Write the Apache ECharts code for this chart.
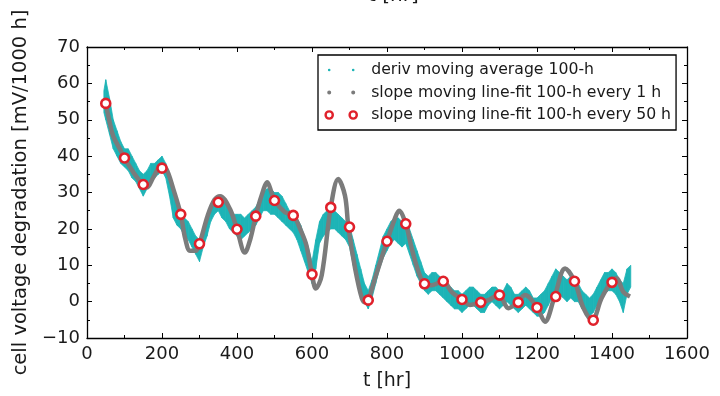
<!DOCTYPE html>
<html><head><meta charset="utf-8">
<script src="https://cdn.jsdelivr.net/npm/echarts@6/dist/echarts.min.js"></script>
<style>html,body{margin:0;padding:0;background:#fff}#c{width:720px;height:396px}</style>
</head><body><div id="c"></div>
<script>
// ---- data ----
const xTicks = [0, 200, 400, 600, 800, 1000, 1200, 1400, 1600];
const yTicks = [-10, 0, 10, 20, 30, 40, 50, 60, 70];

// deriv moving average 100-h: noisy band, lower / upper edge per sampled hour
const cyanT  = [45,50,60,70,80,90,100,110,120,130,140,150,160,170,180,190,200,210,220,230,240,250,260,270,280,290,300,310,320,330,340,350,360,370,380,390,400,410,420,430,440,450,460,470,480,490,500,510,520,530,540,550,560,570,580,590,600,610,620,630,640,650,660,670,680,690,700,710,720,730,740,750,760,770,780,790,800,810,820,830,840,850,860,870,880,890,900,910,920,930,940,950,960,970,980,990,1000,1010,1020,1030,1040,1050,1060,1070,1080,1090,1100,1110,1120,1130,1140,1150,1160,1170,1180,1190,1200,1210,1220,1230,1240,1250,1260,1270,1280,1290,1300,1310,1320,1330,1340,1350,1360,1370,1380,1390,1400,1410,1420,1430,1440,1450];
const cyanLo = [52,50,46,42,40,38,37,36,34,33,31,29,31,33,34,35,36,34,29,23,21,20,18,17,15,13,11,15,18,22,24,25,23,22,20,19,18,17,18,19,20,21,23,25,25,24,24,23,22,21,20,19,17,14,11,8,5,9,16,18,19,20,20,19,18,17,15,10,7,3,0,-2,1,5,9,12,14,16,17,16,15,16,13,10,7,5,3,2,3,3,2,1,0,-1,-2,-2,-3,-2,-1,-1,-2,-3,-3,-1,0,-1,-2,-1,0,-1,-2,-3,-2,-1,-2,-3,-4,-4,-3,-1,1,3,2,1,0,1,0,0,-2,-3,-4,-3,-1,1,2,3,3,2,0,-3,2,4];
const cyanHi = [58,61,56,50,47,44,42,42,40,38,36,35,36,38,38,39,40,38,34,30,27,25,23,22,20,18,17,19,23,26,28,29,28,27,26,24,24,24,23,24,25,26,28,30,31,31,30,30,29,27,25,24,23,21,18,15,11,17,22,24,25,26,25,24,23,22,21,17,13,9,5,3,6,10,14,18,20,22,23,23,22,23,20,17,14,11,8,7,8,8,7,6,5,4,3,3,2,3,4,4,3,2,2,3,4,4,3,3,5,4,2,2,3,4,3,1,1,2,3,5,7,9,8,7,6,7,6,5,3,2,1,2,4,6,8,8,9,8,6,5,9,10];

// slope moving line-fit 100-h every 1 h (smooth curve, sampled points)
const grayT = [50,60,70,88,100,124,150,160,177,198,212,230,250,262,275,290,300,322,340,355,381,400,421,435,450,465,481,492,500,528,550,572,585,600,610,626,650,670,688,697,715,733,742,750,768,800,821,832,850,866,884,900,919,950,972,1000,1021,1050,1070,1098,1124,1148,1168,1200,1221,1247,1275,1300,1324,1347,1372,1397,1412,1430,1448];
const grayV = [54.5,49.5,45.5,41.9,39.5,35.5,32,31.4,34.2,37.4,36.4,31,24,17.3,14,14,15.9,23.7,28,29,25.5,19.9,13.5,17,23.5,29,32.8,30,27.8,24.6,23.7,19.1,15.5,7.5,3.6,7.3,25.9,33.7,29.1,20.5,9.1,0.9,-0.2,0.4,6.4,16.6,22.8,25,21.4,14.6,8.2,4.9,4.5,5.6,2.7,0.6,-0.9,-0.2,0.4,1.8,-1.8,-0.2,1.8,-1.6,-5.5,1.4,9.1,5.6,-1.8,-5.1,0.9,5.3,6.4,2.7,1.4];

// slope moving line-fit 100-h every 50 h
const redT = [50,100,150,200,250,300,350,400,450,500,550,600,650,700,750,800,850,900,950,1000,1050,1100,1150,1200,1250,1300,1350,1400];
const redV = [54.5,39.5,32.2,36.7,24,15.9,27.3,19.9,23.5,27.8,23.7,7.5,25.9,20.5,0.4,16.6,21.4,4.9,5.6,0.6,-0.2,1.8,-0.2,-1.6,1.4,5.6,-5.1,5.3];

const names = ['deriv moving average 100-h','slope moving line-fit 100-h every 1 h','slope moving line-fit 100-h every 50 h'];

// ---- chart ----
const FONT = 'DejaVu Sans';
const TXT = '#1a1a1a';
const CYAN = '#1db4b6', GRAY = '#7b7b7b', RED = '#e0212b';

const chart = echarts.init(document.getElementById('c'), null, {renderer:'canvas'});
const minus = v => String(v).replace('-', '\u2212');

const baseX = {
  type:'value', min:xTicks[0], max:xTicks[xTicks.length-1], interval:xTicks[1]-xTicks[0],
  axisLine:{show:true, onZero:false, lineStyle:{color:'#000', width:1.3}},
  axisTick:{show:true, inside:true, length:5, lineStyle:{color:'#000', width:1}},
  minorTick:{show:true, splitNumber:2, length:3, lineStyle:{color:'#000', width:1}},
  splitLine:{show:false}, minorSplitLine:{show:false}
};
const baseY = {
  type:'value', min:yTicks[0], max:yTicks[yTicks.length-1], interval:yTicks[1]-yTicks[0],
  axisLine:{show:true, onZero:false, lineStyle:{color:'#000', width:1.3}},
  axisTick:{show:true, inside:true, length:5, lineStyle:{color:'#000', width:1}},
  minorTick:{show:true, splitNumber:2, length:3, lineStyle:{color:'#000', width:1}},
  splitLine:{show:false}, minorSplitLine:{show:false}
};

const twoDots = r => `path://M0,0 M32,8 M${4-r},4 A${r},${r} 0 1,1 ${4+r},4 A${r},${r} 0 1,1 ${4-r},4 Z M${28-r},4 A${r},${r} 0 1,1 ${28+r},4 A${r},${r} 0 1,1 ${28-r},4 Z`;

// band segments built from the cyan arrays
const bandData = cyanT.slice(0, -1).map((t,i)=>[t, cyanLo[i], cyanHi[i], cyanT[i+1], cyanLo[i+1], cyanHi[i+1]]);

chart.setOption({
  animation:false,
  backgroundColor:'#fff',
  textStyle:{fontFamily:FONT},
  title:{text:'t [hr]', left:363, top:-19, textStyle:{fontFamily:FONT, fontSize:20, fontWeight:'normal', color:TXT}},
  grid:{left:87, right:33, top:47, bottom:56, containLabel:false},
  xAxis:[
    Object.assign({}, baseX, {
      position:'bottom', name:'t [hr]', nameLocation:'middle', nameGap:34,
      nameTextStyle:{fontFamily:FONT, fontSize:19, color:TXT},
      axisLabel:{show:true, margin:7, fontFamily:FONT, fontSize:18, color:TXT, formatter:minus}
    }),
    Object.assign({}, baseX, {position:'top', axisLabel:{show:false}})
  ],
  yAxis:[
    Object.assign({}, baseY, {
      position:'left', name:'cell voltage degradation [mV/1000 h]', nameLocation:'middle', nameGap:56,
      nameTextStyle:{fontFamily:FONT, fontSize:19.5, color:TXT},
      axisLabel:{show:true, margin:7, fontFamily:FONT, fontSize:18, color:TXT, formatter:minus}
    }),
    Object.assign({}, baseY, {position:'right', axisLabel:{show:false}})
  ],
  legend:{
    orient:'vertical', left:318, top:55, padding:[7,5,7,6], itemGap:6.5,
    itemWidth:32, itemHeight:8,
    backgroundColor:'#fff', borderColor:'#000', borderWidth:1.3, borderRadius:0,
    textStyle:{fontFamily:FONT, fontSize:15.7, color:TXT, lineHeight:16, padding:[0,0,0,9]},
    data:[
      {name:names[0], icon:twoDots(1.3), itemStyle:{color:CYAN, borderWidth:0}},
      {name:names[1], icon:twoDots(2), itemStyle:{color:GRAY, borderWidth:0}},
      {name:names[2], icon:twoDots(3.6), itemStyle:{color:'#fff', borderColor:RED, borderWidth:2.4}}
    ]
  },
  series:[
    {
      name:names[0], type:'custom', xAxisIndex:0, yAxisIndex:0, z:2,
      data: bandData,
      encode:{x:[0,3], y:[1,2,4,5]},
      itemStyle:{color:CYAN},
      renderItem:(params, api)=>{
        const a = api.coord([api.value(0), api.value(1)]);
        const b = api.coord([api.value(0), api.value(2)]);
        const c = api.coord([api.value(3), api.value(5)]);
        const d = api.coord([api.value(3), api.value(4)]);
        return {type:'polygon', shape:{points:[a,b,c,d]},
          style:{fill:CYAN, stroke:CYAN, lineWidth:0.8}};
      }
    },
    {
      name:names[1], type:'line', xAxisIndex:0, yAxisIndex:0, z:3,
      data: grayT.map((t,i)=>[t, grayV[i]]),
      smooth:0.35, showSymbol:false, symbol:'none',
      lineStyle:{color:GRAY, width:4.5}, itemStyle:{color:GRAY}
    },
    {
      name:names[2], type:'scatter', xAxisIndex:0, yAxisIndex:0, z:4,
      data: redT.map((t,i)=>[t, redV[i]]),
      symbol:'circle', symbolSize:9,
      itemStyle:{color:'#fff', borderColor:RED, borderWidth:2.6, opacity:1}
    }
  ]
});
</script>
</body></html>
